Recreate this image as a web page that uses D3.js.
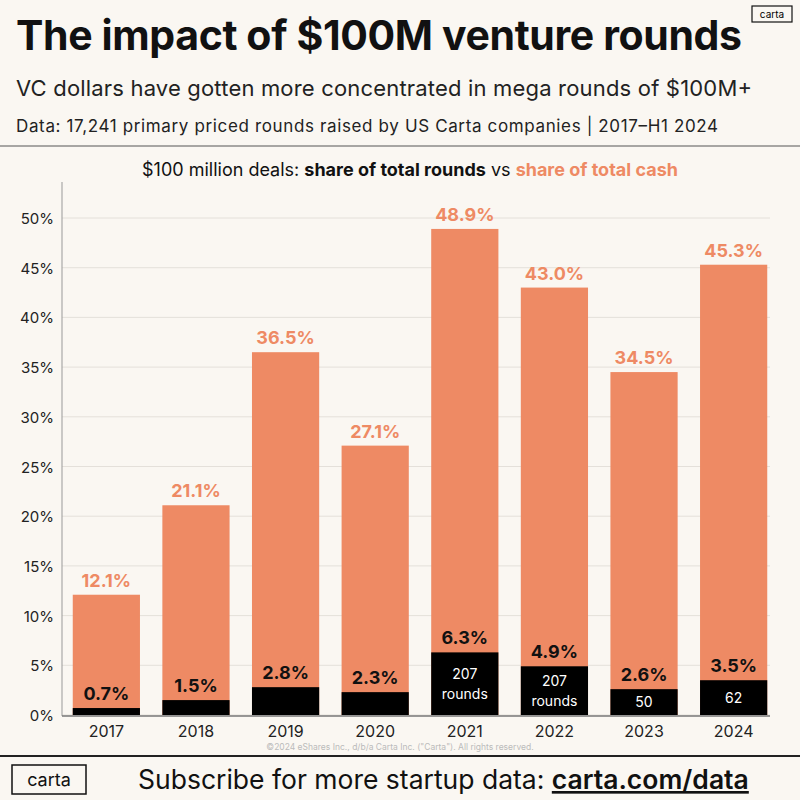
<!DOCTYPE html>
<html><head><meta charset="utf-8">
<script src="https://cdn.jsdelivr.net/npm/d3@7"></script>
<style>body{margin:0;background:#faf7f2}svg{display:block}</style>
</head><body><svg id="c" width="800" height="800"></svg>
<script>
const years = ["2017","2018","2019","2020","2021","2022","2023","2024"];
const cashShare = [12.1,21.1,36.5,27.1,48.9,43.0,34.5,45.3];
const roundShare = [0.7,1.5,2.8,2.3,6.3,4.9,2.6,3.5];
const roundCounts = ["","","","","207\nrounds","207\nrounds","50","62"];
const yTicks = [0,5,10,15,20,25,30,35,40,45,50];

const svg = d3.select("#c");
const F = "Inter, 'Noto Sans', sans-serif";
const orange = "#ee8a64";
svg.append("rect").attr("width",800).attr("height",800).attr("fill","#faf7f2");

svg.append("text").attr("x",16).attr("y",50).attr("font-family",F).attr("font-weight",700)
  .attr("font-size",41).attr("fill","#111").attr("textLength",726).text("The impact of $100M venture rounds");
svg.append("rect").attr("x",752).attr("y",6).attr("width",40).attr("height",16).attr("fill","none").attr("stroke","#111").attr("stroke-width",1.2);
svg.append("text").attr("x",772).attr("y",18).attr("text-anchor","middle").attr("font-family",F).attr("font-size",10).text("carta");
svg.append("text").attr("x",16).attr("y",96).attr("font-family",F).attr("font-size",22).attr("fill","#222").attr("textLength",736)
  .text("VC dollars have gotten more concentrated in mega rounds of $100M+");
svg.append("text").attr("x",16).attr("y",132).attr("font-family",F).attr("font-size",17).attr("fill","#222").attr("textLength",702)
  .text("Data: 17,241 primary priced rounds raised by US Carta companies | 2017–H1 2024");
svg.append("line").attr("x1",0).attr("x2",800).attr("y1",146).attr("y2",146).attr("stroke","#555").attr("stroke-width",1);

const st = svg.append("text").attr("x",410).attr("y",176).attr("text-anchor","middle").attr("font-family",F).attr("font-size",18).attr("fill","#111");
st.append("tspan").text("$100 million deals: ");
st.append("tspan").attr("font-weight",700).text("share of total rounds");
st.append("tspan").text(" vs ");
st.append("tspan").attr("font-weight",700).attr("fill",orange).text("share of total cash");

const x = d3.scaleBand().domain(years).range([62,778]).paddingInner(0.25).paddingOuter(0.12);
const y = d3.scaleLinear().domain([0,50]).range([715,218]);

const g = svg.append("g");
yTicks.forEach(t=>{
  g.append("line").attr("x1",62).attr("x2",770).attr("y1",y(t)).attr("y2",y(t)).attr("stroke","#e4e0da");
  g.append("text").attr("x",54).attr("y",y(t)+6).attr("text-anchor","end").attr("font-family",F).attr("font-size",15).attr("fill","#222").text(t+"%");
});
g.append("line").attr("x1",62).attr("x2",62).attr("y1",182).attr("y2",716).attr("stroke","#999");

years.forEach((yr,i)=>{
  const bx = x(yr), bw = x.bandwidth(), cx = bx+bw/2;
  g.append("rect").attr("x",bx).attr("width",bw).attr("y",y(cashShare[i])).attr("height",y(0)-y(cashShare[i])).attr("fill",orange);
  g.append("rect").attr("x",bx).attr("width",bw).attr("y",y(roundShare[i])).attr("height",y(0)-y(roundShare[i])).attr("fill","#000");
  g.append("text").attr("x",cx).attr("y",y(cashShare[i])-8).attr("text-anchor","middle").attr("font-family",F).attr("font-weight",700).attr("font-size",18).attr("fill",orange).text(cashShare[i].toFixed(1)+"%");
  g.append("text").attr("x",cx).attr("y",y(roundShare[i])-8).attr("text-anchor","middle").attr("font-family",F).attr("font-weight",700).attr("font-size",18).attr("fill","#111").text(roundShare[i].toFixed(1)+"%");
  const lines = roundCounts[i] ? roundCounts[i].split("\n") : [];
  const top = y(roundShare[i]);
  const mid = (top+y(0))/2;
  lines.forEach((l,k)=>{
    g.append("text").attr("x",cx).attr("y",mid+5+(k-(lines.length-1)/2)*20).attr("text-anchor","middle").attr("font-family",F).attr("font-size",14).attr("fill","#fff").text(l);
  });
  g.append("text").attr("x",cx).attr("y",737).attr("text-anchor","middle").attr("font-family",F).attr("font-size",16).attr("fill","#222").text(yr);
});
g.append("line").attr("x1",62).attr("x2",770).attr("y1",716).attr("y2",716).attr("stroke","#777").attr("stroke-width",1.5);

svg.append("text").attr("x",400).attr("y",750).attr("text-anchor","middle").attr("font-family",F).attr("font-size",8.5).attr("fill","#bbb")
  .text("©2024 eShares Inc., d/b/a Carta Inc. (\"Carta\"). All rights reserved.");
svg.append("line").attr("x1",0).attr("x2",800).attr("y1",756).attr("y2",756).attr("stroke","#222").attr("stroke-width",2);
svg.append("rect").attr("x",12).attr("y",765).attr("width",74).attr("height",29).attr("fill","none").attr("stroke","#111").attr("stroke-width",1.5);
svg.append("text").attr("x",49).attr("y",786).attr("text-anchor","middle").attr("font-family",F).attr("font-size",18).attr("fill","#111").text("carta");
const ft = svg.append("text").attr("x",138).attr("y",789).attr("font-family",F).attr("font-size",26.5).attr("fill","#111");
ft.append("tspan").text("Subscribe for more startup data: ");
ft.append("tspan").attr("font-weight",600).attr("text-decoration","underline").text("carta.com/data");
</script></body></html>
